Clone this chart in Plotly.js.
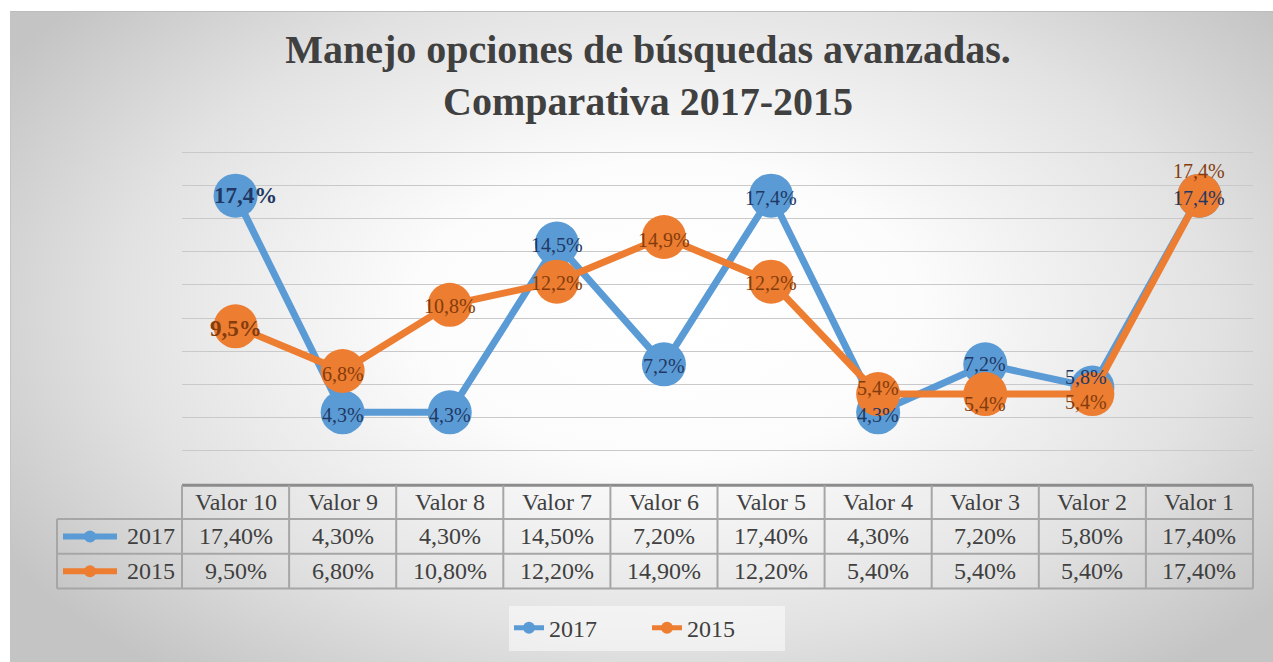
<!DOCTYPE html>
<html>
<head>
<meta charset="utf-8">
<script src="https://cdn.plot.ly/plotly-3.0.1.min.js"></script>
<style>
  html, body { margin: 0; padding: 0; background: #ffffff; }
  #wrap { position: relative; width: 1273px; height: 662px; overflow: hidden; }
  #bg { position: absolute; left: 10px; top: 11px; right: 0; bottom: 0;
        border-top: 1px solid #bdbdbd; border-left: 1px solid #c4c4c4;
        background: radial-gradient(ellipse 62% 72% at 52% 46%, #ffffff 0%, #fcfcfc 32%, #e2e2e2 70%, #c4c4c4 100%); }
  #chart { position: absolute; left: 0; top: 0; width: 1273px; height: 662px; }
</style>
</head>
<body>
<div id="wrap"><div id="bg"></div><div id="chart"></div></div>
<script>
// ---- data ----
const categories = ['Valor 10', 'Valor 9', 'Valor 8', 'Valor 7', 'Valor 6', 'Valor 5', 'Valor 4', 'Valor 3', 'Valor 2', 'Valor 1'];
const seriesNames = ['2017', '2015'];
const values2017 = [17.4, 4.3, 4.3, 14.5, 7.2, 17.4, 4.3, 7.2, 5.8, 17.4];
const values2015 = [9.5, 6.8, 10.8, 12.2, 14.9, 12.2, 5.4, 5.4, 5.4, 17.4];
const titleLines = ['Manejo opciones de búsquedas avanzadas.', 'Comparativa 2017-2015'];

// ---- styles / layout constants ----
const FONT = 'Liberation Serif, serif';
const colors = ['#5b9bd5', '#ed7d31'];
const labelColors = ['#1f3864', '#843c0c'];
const textColor = '#404040';
const boldIdx = [0];
const labelDX = [
  [10, 0, 0, 0, 0, 0, 0, 0, -6, 0],
  [0, 0, 0, 0, 0, 0, 0, 0, -6, 0]
];
const labelDY = [
  [0, -3, -3, -1, -2, -2, -3, 0, 11, -2],
  [-2, -3, -1, -1, -3, -1, 6, -10, -8, 25]
];

const W = 1273, H = 662;
const plotL = 182, plotR = 1253;
const yRange = [1.9, 20.1];
const pxPerUnit = 300 / 18;
const plotTop = 152.7 - (yRange[1] - 20) * pxPerUnit;
const plotBot = 452.7 + (2 - yRange[0]) * pxPerUnit;
const plotH = plotBot - plotTop;
const pyToPaper = py => (plotBot - py) / plotH;
const pxToPaper = px => (px - plotL) / (plotR - plotL);

const fmtLabel = v => v.toFixed(1).replace('.', ',') + '%';
const fmtTable = v => v.toFixed(2).replace('.', ',') + '%';
const allSeries = [values2017, values2015];

const traces = [];
allSeries.forEach((vals, s) => {
  traces.push({
    type: 'scatter', mode: 'lines+markers', name: seriesNames[s],
    x: categories, y: vals,
    line: { color: colors[s], width: 7 },
    marker: { color: colors[s], size: 44 },
    hoverinfo: 'x+y+name', cliponaxis: false
  });
});

const shapes = [];
const annotations = [];

// data labels
allSeries.forEach((vals, s) => {
  vals.forEach((v, i) => {
    const t = fmtLabel(v);
    const bold = boldIdx.includes(i);
    annotations.push({ xref: 'x', yref: 'y', x: categories[i], y: v,
      text: bold ? '<b>' + t + '</b>' : t,
      showarrow: false, xanchor: 'center', yanchor: 'middle',
      xshift: labelDX[s][i], yshift: labelDY[s][i],
      font: { family: FONT, size: bold ? 23 : 20, color: labelColors[s] } });
  });
});

// ---- data table ----
const n = categories.length;
const rowY = [488, 522, 557, 592].map(pyToPaper);
const legColX = pxToPaper(57);
const border = { color: '#a6a6a6', width: 2 };
shapes.push({ type: 'line', xref: 'paper', yref: 'paper', x0: 0, x1: 1, y0: rowY[0], y1: rowY[0], line: { color: '#8c8c8c', width: 3 } });
for (let r = 1; r < rowY.length; r++) {
  shapes.push({ type: 'line', xref: 'paper', yref: 'paper', x0: legColX, x1: 1, y0: rowY[r], y1: rowY[r], line: border });
}
for (let i = 0; i <= n; i++) {
  shapes.push({ type: 'line', xref: 'paper', yref: 'paper', x0: i / n, x1: i / n, y0: rowY[0], y1: rowY[3], line: border });
}
shapes.push({ type: 'line', xref: 'paper', yref: 'paper', x0: legColX, x1: legColX, y0: rowY[1], y1: rowY[3], line: border });

categories.forEach((c, i) => {
  annotations.push({ xref: 'paper', yref: 'paper', x: (i + 0.5) / n, y: (rowY[0] + rowY[1]) / 2,
    text: c, showarrow: false, xanchor: 'center', yanchor: 'middle', font: { family: FONT, size: 24, color: textColor } });
});
allSeries.forEach((vals, s) => {
  const yc = (rowY[s + 1] + rowY[s + 2]) / 2;
  vals.forEach((v, i) => {
    annotations.push({ xref: 'paper', yref: 'paper', x: (i + 0.5) / n, y: yc,
      text: fmtTable(v), showarrow: false, xanchor: 'center', yanchor: 'middle', font: { family: FONT, size: 24, color: textColor } });
  });
  shapes.push({ type: 'line', xref: 'paper', yref: 'paper', x0: pxToPaper(63), x1: pxToPaper(117), y0: yc, y1: yc,
    line: { color: colors[s], width: 6 } });
  shapes.push({ type: 'circle', xref: 'paper', yref: 'paper', xsizemode: 'pixel', ysizemode: 'pixel',
    xanchor: pxToPaper(90), yanchor: yc, x0: -6, x1: 6, y0: -6, y1: 6,
    fillcolor: colors[s], line: { width: 0 } });
  annotations.push({ xref: 'paper', yref: 'paper', x: pxToPaper(177), y: yc, text: seriesNames[s], showarrow: false,
    xanchor: 'right', yanchor: 'middle', font: { family: FONT, size: 24, color: textColor } });
});

const layout = {
  width: W, height: H,
  paper_bgcolor: 'rgba(0,0,0,0)', plot_bgcolor: 'rgba(0,0,0,0)',
  margin: { l: plotL, r: W - plotR, t: plotTop, b: H - plotBot },
  font: { family: FONT, color: textColor },
  title: {
    text: titleLines.join('<br>'),
    font: { family: FONT, size: 40, color: textColor, weight: 'bold' },
    xref: 'container', x: 648 / W, xanchor: 'center',
    yref: 'container', y: 1 - 63 / H, yanchor: 'top'
  },
  xaxis: { type: 'category', range: [-0.5, n - 0.5], showticklabels: false, showgrid: false, zeroline: false, showline: false, ticks: '' },
  yaxis: { range: yRange, tick0: 0, dtick: 2, showticklabels: false, showgrid: true, gridcolor: '#c9c9c9', gridwidth: 1.4, zeroline: false, showline: false, ticks: '' },
  showlegend: true,
  legend: {
    orientation: 'h', x: pxToPaper(647), xanchor: 'center', y: pyToPaper(632), yanchor: 'middle',
    bgcolor: 'rgba(255,255,255,0.5)', itemsizing: 'constant', entrywidth: 93,
    font: { family: FONT, size: 24, color: textColor }, tracegroupgap: 0
  },
  shapes: shapes,
  annotations: annotations
};

Plotly.newPlot('chart', traces, layout, { displayModeBar: false });
</script>
</body>
</html>
